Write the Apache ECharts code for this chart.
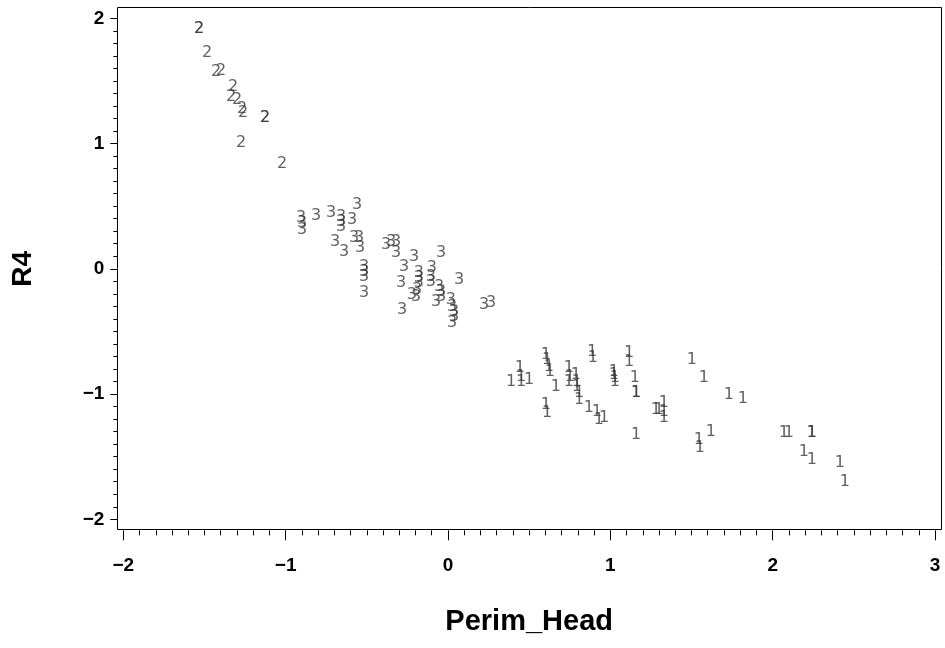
<!DOCTYPE html>
<html>
<head>
<meta charset="utf-8">
<script src="https://cdn.jsdelivr.net/npm/echarts@6/dist/echarts.min.js"></script>
<style>
html, body { margin: 0; padding: 0; background: #fff; }
#main { width: 945px; height: 648px; }
</style>
</head>
<body>
<div id="main"></div>
<script>
// group 2 points (upper left)
var g2X = [-1.533, -1.533, -1.484, -1.429, -1.398, -1.324, -1.336, -1.299, -1.268, -1.262, -1.127, -1.127, -1.275, -1.022];
var g2Y = [1.912, 1.912, 1.728, 1.576, 1.584, 1.456, 1.376, 1.352, 1.280, 1.248, 1.208, 1.208, 1.008, 0.840];

// group 3 points (middle)
var g3X = [-0.905, -0.899, -0.899, -0.813, -0.720, -0.659, -0.659, -0.659, -0.591, -0.560,
    -0.696, -0.640, -0.579, -0.548, -0.542, -0.382, -0.351, -0.320, -0.320, -0.517,
    -0.517, -0.517, -0.517, -0.209, -0.043, -0.271, -0.179, -0.179, -0.179, -0.191,
    -0.197, -0.099, -0.105, -0.105, -0.289, -0.222, -0.055, -0.043, -0.043, -0.074,
    0.068, 0.018, 0.025, 0.037, 0.037, 0.025, -0.283, 0.222, 0.265];
var g3Y = [0.408, 0.368, 0.312, 0.424, 0.448, 0.416, 0.376, 0.336, 0.392, 0.512,
    0.216, 0.136, 0.248, 0.248, 0.168, 0.192, 0.216, 0.216, 0.128, 0.016,
    -0.024, -0.064, -0.192, 0.096, 0.128, 0.016, -0.032, -0.072, -0.112, -0.168,
    -0.224, 0.008, -0.064, -0.104, -0.112, -0.208, -0.144, -0.184, -0.224, -0.264,
    -0.088, -0.248, -0.304, -0.344, -0.384, -0.432, -0.328, -0.288, -0.272];

// group 1 points (lower right)
var g1X = [0.388, 0.450, 0.499, 0.443, 0.450, 0.603, 0.610, 0.622, 0.628, 0.665,
    0.745, 0.751, 0.745, 0.788, 0.794, 0.794, 0.807, 0.807, 0.887, 0.893,
    0.868, 0.917, 0.930, 0.961, 0.603, 0.610, 1.022, 1.022, 1.028, 1.028,
    1.115, 1.115, 1.151, 1.158, 1.158, 1.281, 1.299, 1.330, 1.330, 1.330,
    1.502, 1.576, 1.730, 1.816, 1.158, 1.546, 1.552, 1.619, 2.069, 2.100,
    2.241, 2.241, 2.192, 2.241, 2.414, 2.445];
var g1Y = [-0.904, -0.904, -0.888, -0.792, -0.864, -0.688, -0.728, -0.784, -0.824, -0.944,
    -0.792, -0.864, -0.904, -0.848, -0.904, -0.944, -0.992, -1.048, -0.664, -0.712,
    -1.112, -1.144, -1.208, -1.192, -1.088, -1.152, -0.824, -0.848, -0.872, -0.904,
    -0.672, -0.744, -0.872, -0.992, -0.992, -1.128, -1.128, -1.072, -1.144, -1.192,
    -0.728, -0.872, -1.008, -1.040, -1.328, -1.368, -1.432, -1.304, -1.312, -1.312,
    -1.312, -1.312, -1.464, -1.528, -1.552, -1.704];

var xTicks = [-2, -1, 0, 1, 2, 3];
var yTicks = [-2, -1, 0, 1, 2];

function pairs(xs, ys) {
    var out = [];
    for (var i = 0; i < xs.length; i++) {
        out.push([xs[i], ys[i]]);
    }
    return out;
}

function minus(v) {
    return String(v).replace('-', '\u2212');
}

function textSeries(name, xs, ys) {
    return {
        name: name,
        type: 'scatter',
        data: pairs(xs, ys),
        symbolSize: 1,
        clip: false,
        itemStyle: { color: 'rgba(0,0,0,0)' },
        label: {
            show: true,
            position: 'inside',
            formatter: name,
            fontFamily: 'DejaVu Sans',
            fontSize: 16,
            color: '#3a3a3a'
        },
        emphasis: { disabled: true },
        silent: true
    };
}

var myChart = echarts.init(document.getElementById('main'), null, { renderer: 'canvas' });

var tickFont = { fontFamily: 'Liberation Sans', fontWeight: 'bold', fontSize: 19, color: '#000' };

var option = {
    animation: false,
    backgroundColor: '#fff',
    grid: { left: 123.3, right: 10, top: 18.3, bottom: 128.7, containLabel: false },
    xAxis: {
        type: 'value',
        min: xTicks[0],
        max: xTicks[xTicks.length - 1],
        interval: 1,
        position: 'bottom',
        offset: 11,
        splitLine: { show: false },
        axisLine: { show: false, onZero: false },
        axisTick: { show: true, length: 10, lineStyle: { color: '#000', width: 1 } },
        minorTick: { show: true, splitNumber: 10, length: 5, lineStyle: { color: '#000', width: 1 } },
        axisLabel: Object.assign({ margin: 26, formatter: minus }, tickFont),
        name: 'Perim_Head',
        nameLocation: 'middle',
        nameGap: 77,
        nameTextStyle: { fontFamily: 'Liberation Sans', fontWeight: 'bold', fontSize: 29, color: '#000' }
    },
    yAxis: {
        type: 'value',
        min: yTicks[0],
        max: yTicks[yTicks.length - 1],
        interval: 1,
        position: 'left',
        offset: 6,
        splitLine: { show: false },
        axisLine: { show: false, onZero: false },
        axisTick: { show: true, length: 7, lineStyle: { color: '#000', width: 1 } },
        minorTick: { show: true, splitNumber: 10, length: 4, lineStyle: { color: '#000', width: 1 } },
        axisLabel: Object.assign({ margin: 13, formatter: minus }, tickFont),
        name: 'R4',
        nameLocation: 'middle',
        nameGap: 80,
        nameRotate: 90,
        nameTextStyle: { fontFamily: 'Liberation Sans', fontWeight: 'bold', fontSize: 28, color: '#000' }
    },
    graphic: [{
        type: 'rect',
        silent: true,
        shape: { x: 117.5, y: 7.5, width: 824, height: 522 },
        style: { fill: 'none', stroke: '#000', lineWidth: 1 }
    }],
    series: [
        textSeries('2', g2X, g2Y),
        textSeries('3', g3X, g3Y),
        textSeries('1', g1X, g1Y)
    ]
};
myChart.setOption(option);
</script>
</body>
</html>
